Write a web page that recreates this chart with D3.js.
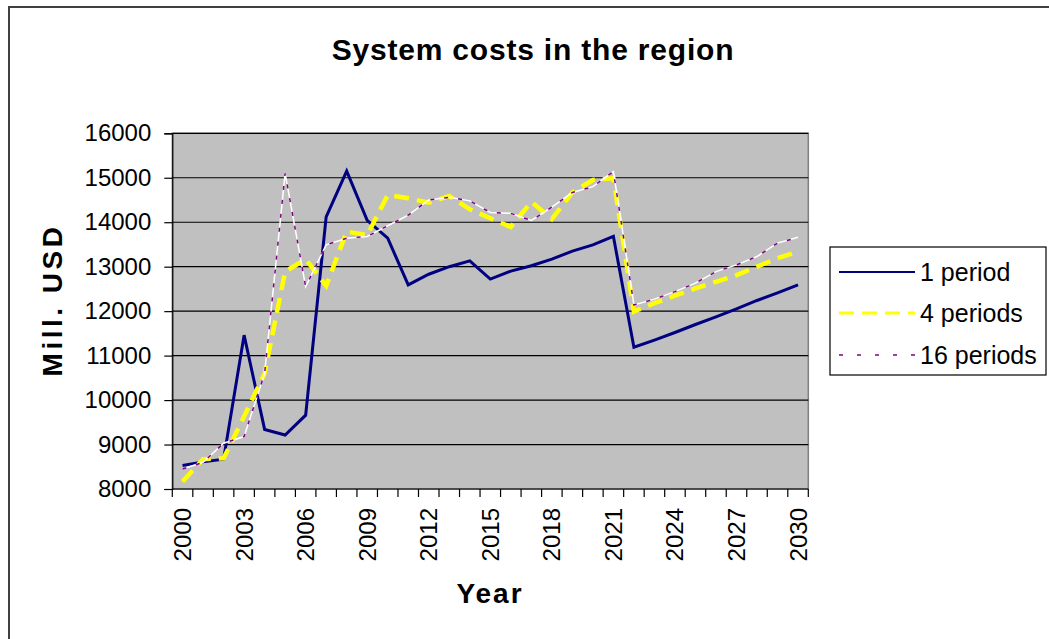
<!DOCTYPE html>
<html><head><meta charset="utf-8">
<script src="https://cdn.jsdelivr.net/npm/d3@7"></script>
<style>body{margin:0;background:#fff}svg{display:block}text{font-family:Arial,"Liberation Sans",sans-serif}</style>
</head><body><div id="chart"></div>
<script>
const years = d3.range(2000, 2031).map(String);
const tickYears = ["2000","2003","2006","2009","2012","2015","2018","2021","2024","2027","2030"];
const yTicks = [8000,9000,10000,11000,12000,13000,14000,15000,16000];
const period1 = [8530,8610,8670,11460,9340,9215,9660,14120,15150,14040,13640,12590,12830,13000,13130,12720,12900,13020,13170,13350,13490,13680,11190,11350,11520,11700,11870,12050,12240,12410,12590];
const period4 = [8170,8670,8690,9630,10600,12890,13170,12570,13790,13710,14610,14540,14440,14590,14290,14090,13890,14460,14070,14670,14950,14990,11990,12180,12350,12510,12660,12810,13000,13190,13340];
const period16 = [8450,8600,9030,9180,10600,15100,12550,13490,13640,13680,13920,14160,14500,14560,14480,14220,14200,14040,14340,14670,14800,15140,12140,12270,12440,12630,12890,13040,13230,13530,13660];
const seriesNames = ["1 period","4 periods","16 periods"];

const W = 1049, H = 639;
const L = 172.3, R = 808.3, T = 133.3, B = 489;
const svg = d3.select("#chart").append("svg").attr("width", W).attr("height", H);

svg.append("path").attr("d", `M9,${H+5}V7H${W+5}`).attr("fill","none").attr("stroke","#404040").attr("stroke-width",2);

svg.append("text").attr("x", 533).attr("y", 60).attr("text-anchor","middle")
  .style("font-size","30px").attr("letter-spacing", 0.8).attr("font-weight","bold").text("System costs in the region");

const x = d3.scaleBand().domain(years).range([L, R]).paddingInner(0).paddingOuter(0);
const y = d3.scaleLinear().domain([8000, 16000]).range([B, T]);
const cx = d => x(d) + x.bandwidth()/2;

svg.append("rect").attr("x", L).attr("y", T).attr("width", R-L).attr("height", B-T)
  .attr("fill", "#C0C0C0").attr("stroke", "#808080").attr("stroke-width", 1.5);

svg.append("g").selectAll("line").data(yTicks.slice(1)).join("line")
  .attr("x1", L).attr("x2", R).attr("y1", d => y(d)).attr("y2", d => y(d))
  .attr("stroke", "#000").attr("stroke-width", 1.2);

const yAxis = d3.axisLeft(y).tickValues(yTicks).tickSize(8).tickPadding(13).tickFormat(d3.format("d"));
const gy = svg.append("g").attr("transform", `translate(${L},0)`).call(yAxis);
gy.attr("font-size", null).attr("font-family", null);
gy.select(".domain").attr("stroke","#000").attr("stroke-width",1.2);
gy.selectAll(".tick line").attr("stroke","#000").attr("stroke-width",1.2);
gy.selectAll("text").style("font-size","24px").attr("fill","#000");

svg.append("line").attr("x1", L).attr("x2", R).attr("y1", B).attr("y2", B).attr("stroke","#000").attr("stroke-width",1.2);
const bounds = years.map(d => x(d)).concat([x(years[years.length-1]) + x.bandwidth()]);
svg.append("g").selectAll("line").data(bounds).join("line")
  .attr("x1", d => d).attr("x2", d => d).attr("y1", B).attr("y2", B+8)
  .attr("stroke","#000").attr("stroke-width",1.2);
svg.append("g").selectAll("text").data(tickYears).join("text")
  .attr("transform", d => `translate(${cx(d)+8.5},${B+19}) rotate(-90)`)
  .attr("text-anchor","end").style("font-size","24px").text(d => d);

svg.append("text").attr("x", 490).attr("y", 603).attr("text-anchor","middle")
  .style("font-size","28px").attr("letter-spacing", 2).attr("font-weight","bold").text("Year");
svg.append("text").attr("transform", `translate(62,300) rotate(-90)`).attr("text-anchor","middle")
  .style("font-size","28px").attr("letter-spacing", 3.5).attr("font-weight","bold").text("Mill. USD");

const line = d3.line().x((d,i) => cx(years[i])).y(d => y(d));
svg.append("path").attr("d", line(period1)).attr("fill","none").attr("stroke","#000080").attr("stroke-width",3);
svg.append("path").attr("d", line(period4)).attr("fill","none").attr("stroke","#FFFF00").attr("stroke-width",4.5).attr("stroke-dasharray","15,8");
svg.append("path").attr("d", line(period16)).attr("fill","none").attr("stroke","#FFFFFF").attr("stroke-width",1.5);
svg.append("path").attr("d", line(period16)).attr("fill","none").attr("stroke","#800080").attr("stroke-width",1.5).attr("stroke-dasharray","4,10");

const lg = svg.append("g");
lg.append("rect").attr("x", 830).attr("y", 247).attr("width", 216).attr("height", 128).attr("fill","#fff").attr("stroke","#000").attr("stroke-width",1.2);
const rows = [272, 313, 355];
const styles = [
  {stroke:"#000080", w:2, dash:null},
  {stroke:"#FFFF00", w:3, dash:"15,8"},
  {stroke:"#800080", w:1.5, dash:"4,14"}
];
seriesNames.forEach((n,i) => {
  lg.append("line").attr("x1", 839).attr("x2", 915).attr("y1", rows[i]).attr("y2", rows[i])
    .attr("stroke", styles[i].stroke).attr("stroke-width", styles[i].w).attr("stroke-dasharray", styles[i].dash);
  lg.append("text").attr("x", 920).attr("y", rows[i]+9).style("font-size","25px").text(n);
});
</script></body></html>
